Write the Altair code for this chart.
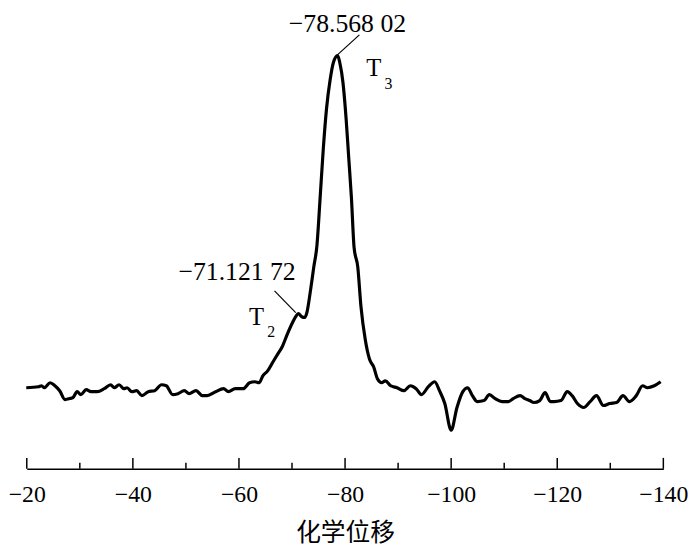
import altair as alt
import pandas as pd

# chemical shift (ppm) and intensity (arbitrary units)
shift = [-19.9, -22.2, -22.8, -23.3, -24.4, -25.3, -26.2, -27.2, -28.1, -28.7,
         -29.5, -30.2, -31.2, -32.1, -33.3, -34.6, -35.8, -36.5, -37.4, -38.3,
         -38.9, -39.8, -40.7, -41.7, -42.9, -44.1, -45.4, -46.3, -47.5, -48.5,
         -49.7, -50.6, -51.9, -53.1, -54.0, -55.6, -57.1, -58.0, -59.3, -60.8,
         -62.0, -63.0, -63.8, -64.5, -65.4, -66.4, -67.3, -68.2, -69.1, -70.1,
         -70.7, -71.2, -71.8, -72.4, -72.8, -73.5, -74.1, -74.7, -75.3, -75.9,
         -76.5, -77.2, -77.8, -78.6, -79.0, -79.6, -80.2, -80.7, -81.2, -81.7,
         -82.4, -83.0, -83.8, -84.6, -85.4, -86.1, -86.9, -87.6, -88.6, -89.8,
         -91.1, -92.3, -93.4, -94.4, -95.7, -96.9, -97.8, -98.8, -100.0, -101.1,
         -102.2, -103.1, -104.0, -104.9, -106.2, -107.2, -108.3, -109.6, -110.8, -111.7,
         -113.0, -113.9, -114.8, -115.6, -116.7, -117.7, -118.7, -119.4, -120.7, -121.9,
         -122.8, -123.8, -125.0, -126.2, -127.4, -128.7, -129.9, -131.2, -132.4, -133.6,
         -134.9, -136.1, -137.0, -138.3, -139.5]
intensity = [82, 83, 84, 82, 87, 84, 79, 70, 71, 72,
             78, 75, 80, 78, 78, 81, 85, 82, 85, 81,
             82, 78, 79, 74, 78, 79, 85, 84, 75, 76,
             79, 76, 79, 74, 74, 78, 81, 78, 81, 81,
             87, 88, 87, 94, 99, 108, 116, 124, 136, 148,
             154, 157, 154, 153, 158, 181, 204, 226, 274, 324,
             364, 394, 411, 418, 411, 391, 354, 314, 274, 224,
             204, 164, 131, 111, 103, 91, 87, 89, 84, 82,
             79, 84, 81, 75, 83, 88, 79, 66, 39, 62,
             78, 82, 74, 68, 69, 75, 71, 68, 68, 71,
             74, 71, 69, 67, 69, 77, 68, 68, 69, 78,
             74, 66, 62, 68, 74, 64, 66, 67, 74, 68,
             74, 84, 82, 84, 88]

major_ticks = [-20, -40, -60, -80, -100, -120, -140]
minor_ticks = [-30, -50, -70, -90, -110, -130]

# annotations
top_label = ["\u221278.568 02"]
top_label_x = [-69.4]
top_label_y = [450]
side_label = ["\u221271.121 72"]
side_label_x = [-70.7]
side_label_y = [199]
leader_x = [-78.4, -70.7]
leader_x2 = [-82.7, -66.7]
leader_y = [418, 158]
leader_y2 = [439, 180]
t_labels = ["T", "T"]
t_x = [-85.4, -63.3]
t_y = [405, 153]
sub_labels = ["3", "2"]
sub_x = [-88.2, -66.1]
sub_y = [389, 138]

df = pd.DataFrame({"shift": shift, "intensity": intensity})
top_df = pd.DataFrame({"label": top_label, "x": top_label_x, "y": top_label_y})
side_df = pd.DataFrame({"label": side_label, "x": side_label_x, "y": side_label_y})
lead = pd.DataFrame({"x": leader_x, "x2": leader_x2, "y": leader_y, "y2": leader_y2})
tdf = pd.DataFrame({"label": t_labels, "x": t_x, "y": t_y})
sdf = pd.DataFrame({"label": sub_labels, "x": sub_x, "y": sub_y})
majdf = pd.DataFrame({"v": major_ticks})
mindf = pd.DataFrame({"v": minor_ticks})

W, H = 644, 459
xscale = alt.Scale(domain=[-140, -20], reverse=True, nice=False, zero=False)
yscale = alt.Scale(domain=[0, 459], nice=False, zero=False)
SERIF = "Liberation Serif"

line = alt.Chart(df).mark_line(color="black", strokeWidth=3.2, interpolate="monotone").encode(
    x=alt.X("shift:Q", scale=xscale,
            axis=alt.Axis(values=major_ticks, title="化学位移", ticks=False, tickSize=0,
                          domain=True, domainColor="black", domainWidth=1.5,
                          labelFont=SERIF, labelFontSize=24, labelColor="black",
                          labelPadding=14, labelFlush=False,
                          titleFont="Noto Sans CJK SC", titleFontSize=25,
                          titleFontWeight="normal", titleColor="black", titlePadding=15,
                          grid=False)),
    y=alt.Y("intensity:Q", scale=yscale, axis=None),
)

major = alt.Chart(majdf).mark_rule(color="black", strokeWidth=1.5).encode(
    x=alt.X("v:Q", scale=xscale), y=alt.value(H), y2=alt.value(H - 11))
minor = alt.Chart(mindf).mark_rule(color="black", strokeWidth=1.5).encode(
    x=alt.X("v:Q", scale=xscale), y=alt.value(H), y2=alt.value(H - 6))

leaders = alt.Chart(lead).mark_rule(color="black", strokeWidth=1.2).encode(
    x=alt.X("x:Q", scale=xscale), x2="x2:Q",
    y=alt.Y("y:Q", scale=yscale), y2="y2:Q")

top_text = alt.Chart(top_df).mark_text(font=SERIF, fontSize=26, align="left",
                                       baseline="middle", color="black").encode(
    x=alt.X("x:Q", scale=xscale), y=alt.Y("y:Q", scale=yscale), text="label:N")
side_text = alt.Chart(side_df).mark_text(font=SERIF, fontSize=26, align="right",
                                         baseline="middle", color="black").encode(
    x=alt.X("x:Q", scale=xscale), y=alt.Y("y:Q", scale=yscale), text="label:N")
tlabels = alt.Chart(tdf).mark_text(font=SERIF, fontSize=25, align="center",
                                   baseline="middle", color="black").encode(
    x=alt.X("x:Q", scale=xscale), y=alt.Y("y:Q", scale=yscale), text="label:N")
slabels = alt.Chart(sdf).mark_text(font=SERIF, fontSize=16, align="center",
                                   baseline="middle", color="black").encode(
    x=alt.X("x:Q", scale=xscale), y=alt.Y("y:Q", scale=yscale), text="label:N")

chart = alt.layer(line, major, minor, leaders, top_text, side_text, tlabels, slabels).properties(
    width=W, height=H,
    autosize=alt.AutoSizeParams(type="none"),
    padding={"left": 19, "top": 4, "right": 29, "bottom": 77},
    background="white",
).configure_view(stroke=None)

chart.save("out.html", embed_options={"renderer": "svg", "actions": False})
